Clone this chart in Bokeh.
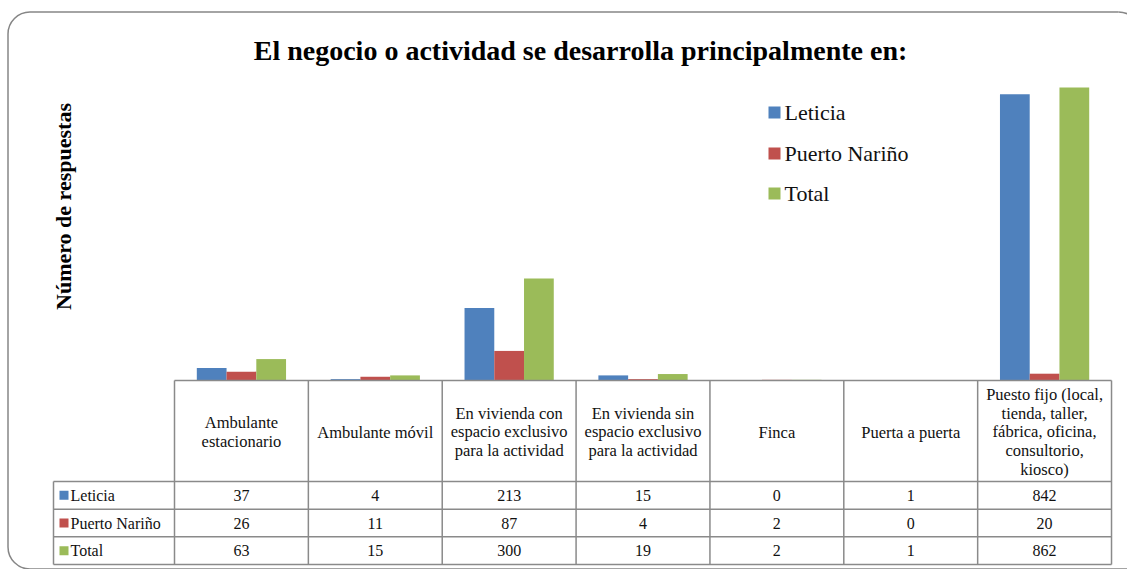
import math
from bokeh.plotting import figure
from bokeh.models import Range1d
from bokeh.core.properties import value
from bokeh.embed import file_html
from bokeh.resources import INLINE

# ---------------- data ----------------
categories = [
    "Ambulante\nestacionario",
    "Ambulante móvil",
    "En vivienda con\nespacio exclusivo\npara la actividad",
    "En vivienda sin\nespacio exclusivo\npara la actividad",
    "Finca",
    "Puerta a puerta",
    "Puesto fijo (local,\ntienda, taller,\nfábrica, oficina,\nconsultorio,\nkiosco)",
]
series_names = ["Leticia", "Puerto Nariño", "Total"]
leticia = [37, 4, 213, 15, 0, 1, 842]
puerto_narino = [26, 11, 87, 4, 2, 0, 20]
total = [63, 15, 300, 19, 2, 1, 862]
colors = ["#4F81BD", "#C0504D", "#9BBB59"]
title_text = "El negocio o actividad se desarrolla principalmente en:"
y_label = "Número de respuestas"

series = [leticia, puerto_narino, total]

# ---------------- layout (page pixels) ----------------
W, H = 1127, 569
COL0, COLW = 174.0, 133.86      # first category column left edge, column width
BASE, PPU = 380.0, 0.34          # zero line y, pixels per unit
FONT = value("Liberation Serif")

def X(px):
    return (px - COL0) / COLW

def Y(py):
    return (BASE - py) / PPU

p = figure(width=W, height=H, output_backend="svg", toolbar_location=None,
           x_axis_type=None, y_axis_type=None, min_border=0,
           x_range=Range1d(X(0), X(W)), y_range=Range1d(Y(H), Y(0)))
p.outline_line_color = None
p.background_fill_color = "white"
p.border_fill_color = "white"

n = len(categories)
bw = 1 / 4.5
offsets = [-bw, 0, bw]

# bars
for vals, col, off in zip(series, colors, offsets):
    p.vbar(x=[i + 0.5 + off for i in range(n)], top=vals, bottom=0, width=bw,
           fill_color=col, line_color=None)

# ---------------- data table ----------------
hdr_bot = 481.0
row_h = (564.0 - hdr_bot) / 3
row_edges = [hdr_bot + k * row_h for k in range(4)]
row_centers = [(row_edges[k] + row_edges[k + 1]) / 2 for k in range(3)]
tbl_left = 53.0

xs, ys = [], []
xs.append([0, n]); ys.append([0, 0])
for e in row_edges:
    xs.append([X(tbl_left), n]); ys.append([Y(e), Y(e)])
for i in range(n + 1):
    xs.append([i, i]); ys.append([0, Y(row_edges[-1])])
xs.append([X(tbl_left), X(tbl_left)]); ys.append([Y(hdr_bot), Y(row_edges[-1])])
p.multi_line(xs=xs, ys=ys, line_color="#8a8a8a", line_width=1.5)

# header texts
p.text(x=[i + 0.5 for i in range(n)], y=[Y((BASE + hdr_bot) / 2 + 1)] * n, text=categories,
       text_align="center", text_baseline="middle", text_font=FONT,
       text_font_size="16.5px", text_line_height=0.98, text_color="#111111")

# values
for k, vals in enumerate(series):
    p.text(x=[i + 0.5 for i in range(n)], y=[Y(row_centers[k])] * n,
           text=[str(v) for v in vals], text_align="center", text_baseline="middle",
           text_font=FONT, text_font_size="16px", text_color="#111111")

# row labels with keys
p.scatter(x=[X(63.5)] * 3, y=[Y(c) for c in row_centers], marker="square", size=9,
          fill_color=colors, line_color=None)
p.text(x=[X(70)] * 3, y=[Y(c) for c in row_centers], text=series_names,
       text_align="left", text_baseline="middle", text_font=FONT,
       text_font_size="16px", text_color="#111111")

# ---------------- legend ----------------
leg_y = [112, 153, 193]
p.scatter(x=[X(774)] * 3, y=[Y(v) for v in leg_y], marker="square", size=12,
          fill_color=colors, line_color=None)
p.text(x=[X(784)] * 3, y=[Y(v) for v in leg_y], text=series_names,
       text_align="left", text_baseline="middle", text_font=FONT,
       text_font_size="22px", text_color="#111111")

# ---------------- title & axis label ----------------
p.text(x=[X(580)], y=[Y(50)], text=[title_text], text_align="center",
       text_baseline="middle", text_font=FONT, text_font_style="bold",
       text_font_size="28px", text_color="#000000")
p.text(x=[X(63)], y=[Y(206)], text=[y_label], angle=math.pi / 2,
       text_align="center", text_baseline="middle", text_font=FONT,
       text_font_style="bold", text_font_size="22px", text_color="#000000")

# ---------------- rounded chart border ----------------
BL, BT, BR, BB, RAD = 7.5, 11.5, 1140.0, 568.5, 22.0
bcol = "#868686"
p.multi_line(xs=[[X(BL + RAD), X(BR - RAD)], [X(BL), X(BL)], [X(BL + RAD), X(BR)]],
             ys=[[Y(BT), Y(BT)], [Y(BT + RAD), Y(BB - RAD)], [Y(BB), Y(BB)]],
             line_color=bcol, line_width=1.5)
p.arc(x=[X(BL + RAD), X(BL + RAD), X(BR - RAD)],
      y=[Y(BT + RAD), Y(BB - RAD), Y(BT + RAD)],
      radius=RAD, radius_units="screen",
      start_angle=[math.pi / 2, math.pi, 0.0],
      end_angle=[math.pi, 1.5 * math.pi, math.pi / 2],
      line_color=bcol, line_width=1.5)

open("out.html", "w").write(file_html(p, INLINE))
